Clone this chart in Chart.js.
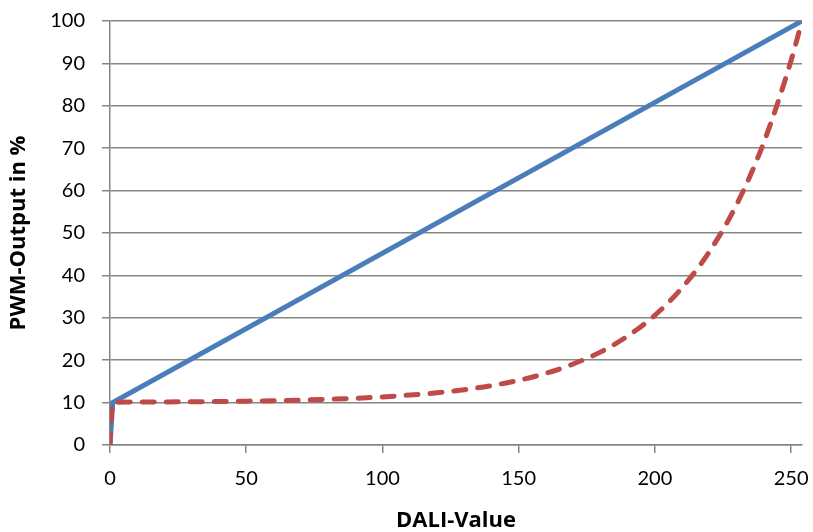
<!DOCTYPE html>
<html><head><meta charset="utf-8">
<script src="https://cdn.jsdelivr.net/npm/chart.js@4"></script>
<style>html,body{margin:0;padding:0;background:#fff}#wrap{width:813px;height:532px}</style>
</head><body><div id="wrap"><canvas id="c"></canvas></div>
<script>
const daliX = [0,1,10,20,30,40,50,60,70,80,90,100,110,120,130,140,150,160,170,180,190,200,210,220,230,240,250,254];
const logCurve = [0,10,10.12,10.15,10.2,10.26,10.34,10.45,10.59,10.78,11.02,11.34,11.77,12.32,13.05,14.0,15.26,16.9,19.1,21.9,25.7,30.6,37.1,45.6,56.7,71.4,90.7,100];
const linX = [0,1,254];
const linY = [0,10,100];
const xTicks = [0,50,100,150,200,250];

const pts = (xs, ys) => xs.map((x,i)=>({x:x,y:ys[i]}));
const grey = '#868686';
new Chart(document.getElementById('c'), {
  type: 'scatter',
  data: { datasets: [
    { label:'log', data: pts(daliX, logCurve), showLine:true, borderColor:'#BE4B48', borderWidth:5, borderDash:[12,12], borderCapStyle:'round', pointRadius:0, cubicInterpolationMode:'monotone', order:0 },
    { label:'lin', data: pts(linX, linY), showLine:true, borderColor:'#4A7EBB', borderWidth:5, pointRadius:0, order:1 }
  ]},
  options: {
    responsive:true, maintainAspectRatio:false, animation:false,
    layout:{ padding:{ top:21, right:11, left:0, bottom:0 } },
    plugins:{ legend:{display:false}, tooltip:{enabled:false} },
    scales:{
      x:{ type:'linear', min:0, max:254,
        afterBuildTicks: s => { s.ticks = xTicks.map(v=>({value:v})); },
        afterFit: s => { s.height = 87; s.paddingLeft = 0; s.paddingRight = 0; },
        grid:{ drawOnChartArea:false, drawTicks:true, tickLength:8, color:grey, lineWidth:1.5 },
        border:{ color:grey, width:1.5 },
        ticks:{ color:'#000', font:{ family:'Lato', size:20 }, padding:14, maxRotation:0 },
        title:{ display:true, text:'DALI-Value', color:'#000', font:{ family:'Open Sans', size:22, weight:'bold', lineHeight:1 }, padding:{top:0,bottom:0} }
      },
      y:{ min:0, max:100,
        ticks:{ stepSize:10, color:'#000', font:{ family:'Lato', size:20 }, padding:17 },
        afterFit: s => { s.width = 110; s.paddingTop = 0; s.paddingBottom = 0; },
        grid:{ color:grey, lineWidth:1.5, tickLength:8 },
        border:{ color:grey, width:1.5 },
        title:{ display:true, text:'PWM-Output in %', color:'#000', font:{ family:'Open Sans', size:22, weight:'bold' }, padding:{top:6,bottom:4} }
      }
    }
  }
});
</script></body></html>
